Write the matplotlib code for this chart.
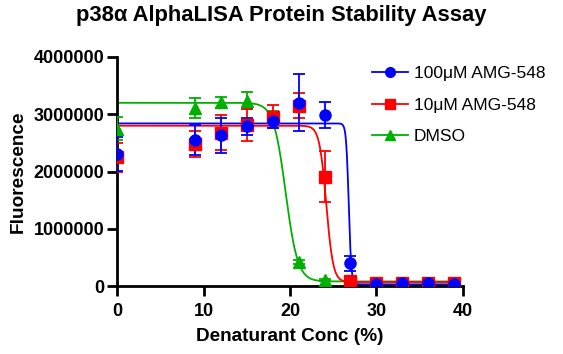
import matplotlib
matplotlib.use("Agg")
import matplotlib.pyplot as plt
import numpy as np

plt.rcParams['font.family'] = ['Liberation Sans', 'DejaVu Sans']

# denaturant concentration (%)
conc = [0, 9, 12, 15, 18, 21, 24, 27, 30, 33, 36, 39]

# 100uM AMG-548
amg100 = [2310000, 2550000, 2630000, 2790000, 2880000, 3200000, 2990000, 400000, 40000, 45000, 45000, 40000]
amg100_err = [300000, 270000, 310000, 150000, 120000, 500000, 230000, 130000, 20000, 20000, 20000, 20000]
# 10uM AMG-548
amg10 = [2250000, 2480000, 2680000, 2810000, 2960000, 3150000, 1910000, 90000, 55000, 60000, 60000, 55000]
amg10_err = [250000, 230000, 300000, 280000, 200000, 220000, 450000, 30000, 20000, 20000, 20000, 20000]
# DMSO
dmso = [2750000, 3110000, 3210000, 3240000, 2950000, 420000, 110000, 70000, 60000, 60000, 60000, 60000]
dmso_err = [200000, 170000, 100000, 140000, 100000, 30000, 20000, 20000, 20000, 20000, 20000, 20000]

# fitted sigmoid params: top, bottom, midpoint, slope
fit_amg100 = (2840000, 30000, 26.8, 0.15)
fit_amg10 = (2800000, 70000, 24.2, 0.4)
fit_dmso = (3200000, 80000, 19.5, 0.7)

labels = ["100\u03bcM AMG-548", "10\u03bcM AMG-548", "DMSO"]


def sigmoid(x, p):
    top, bottom, mid, slope = p
    return bottom + (top - bottom) / (1 + np.exp((x - mid) / slope))


fig = plt.figure(figsize=(5.63, 3.54), dpi=100)
ax = fig.add_axes([0.208, 0.192, 0.614, 0.647])

xx = np.linspace(0, 39, 800)
series = [
    (dmso, dmso_err, fit_dmso, "#00b000", "^", labels[2]),
    (amg10, amg10_err, fit_amg10, "#ff0000", "s", labels[1]),
    (amg100, amg100_err, fit_amg100, "#0000ff", "o", labels[0]),
]
handles = {}
for y, err, p, c, m, lab in series:
    ax.plot(xx, sigmoid(xx, p), color=c, lw=1.3, zorder=2)
    ax.errorbar(conc, y, yerr=err, fmt="none", ecolor=c, elinewidth=1.3,
                capsize=4, capthick=1.3, zorder=3)
    ax.plot(conc, y, ls="none", marker=m, ms=8, color=c, zorder=4)
    h, = ax.plot([], [], color=c, marker=m, ms=7, lw=1.3)
    handles[lab] = h

ax.set_xlim(0, 40)
ax.set_ylim(0, 4000000)
ax.set_xticks([0, 10, 20, 30, 40])
ax.set_yticks([0, 1000000, 2000000, 3000000, 4000000])
ax.set_yticklabels(["0", "1000000", "2000000", "3000000", "4000000"])
for s in ["top", "right"]:
    ax.spines[s].set_visible(False)
for s in ["left", "bottom"]:
    ax.spines[s].set_linewidth(2)
ax.tick_params(width=2, length=7, labelsize=13, direction="out")
ax.tick_params(axis="y", pad=2)
ax.tick_params(axis="x", pad=5)
for t in ax.get_xticklabels() + ax.get_yticklabels():
    t.set_fontweight("bold")
ax.set_xlabel("Denaturant Conc (%)", fontsize=13.7, fontweight="bold", labelpad=6)
ax.set_ylabel("Fluorescence", fontsize=13.7, fontweight="bold", labelpad=5)
fig.suptitle("p38\u03b1 AlphaLISA Protein Stability Assay", fontsize=15.8,
             fontweight="bold", x=0.5, y=0.985)

ax.legend([handles[l] for l in labels], labels, loc="upper left",
          bbox_to_anchor=(372 / 563, 1 - 66 / 354), bbox_transform=fig.transFigure,
          frameon=False, fontsize=12.5, borderpad=0, borderaxespad=0,
          handlelength=2.1, handletextpad=0.3, labelspacing=0.95)
for sp in ax.spines.values():
    sp.set_clip_on(False)

fig.savefig("out.png", dpi=100)
